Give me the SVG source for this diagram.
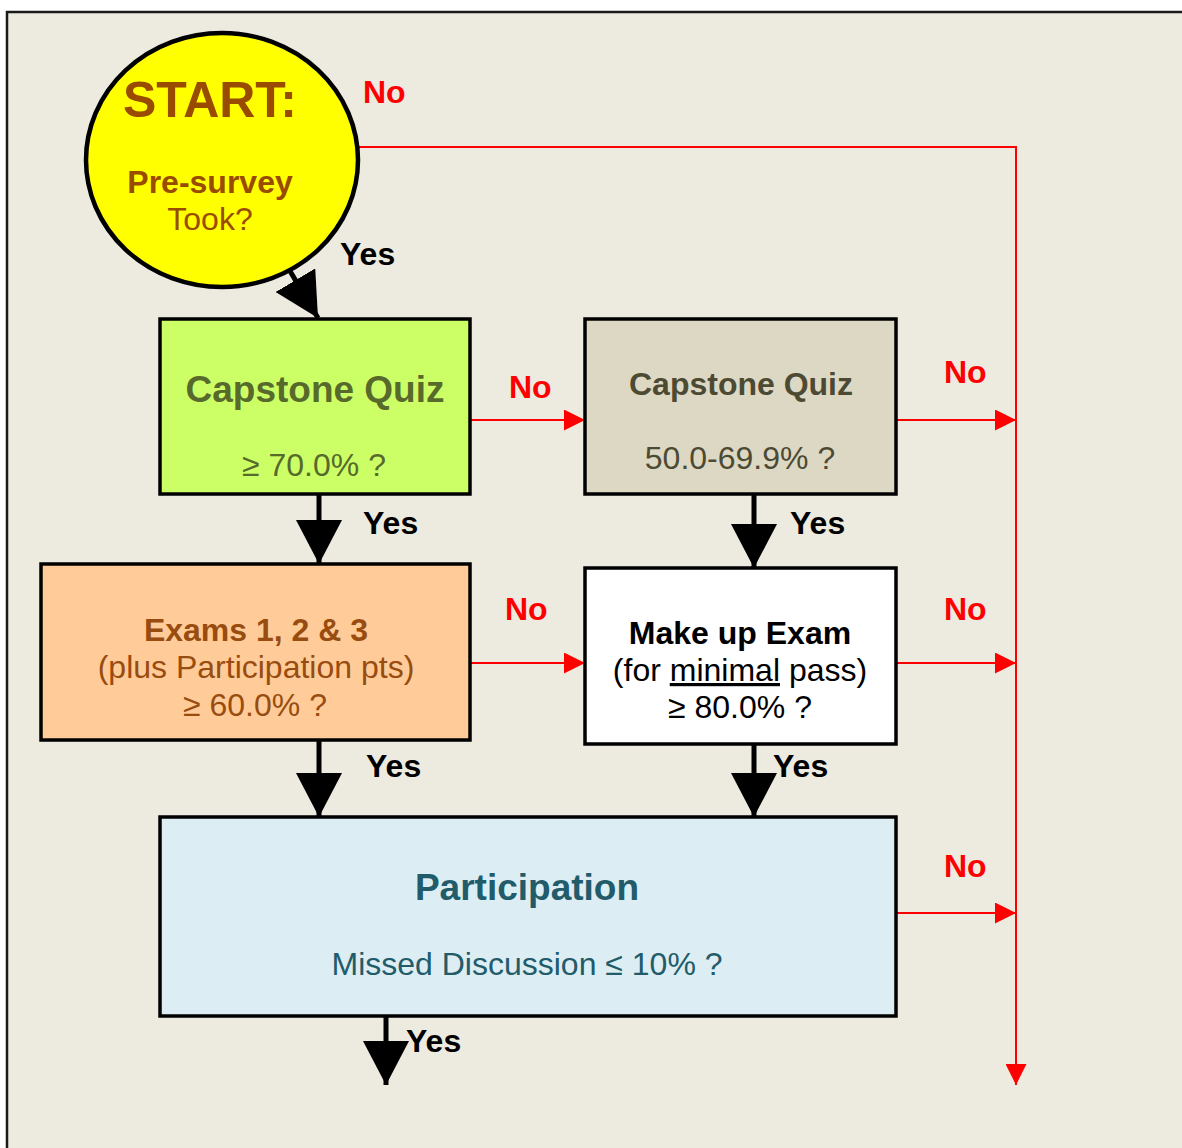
<svg xmlns="http://www.w3.org/2000/svg" width="1182" height="1148" viewBox="0 0 1182 1148">
<style>
text{font-family:"Liberation Sans",Arial,sans-serif;text-anchor:middle}
.b{font-weight:bold}
.box{stroke:#000;stroke-width:3.5}
.lbl{font-size:32px;font-weight:bold;text-anchor:start}
.no{fill:#FF0000}
.yes{fill:#000}
.red{stroke:#FF0000;stroke-width:2;fill:none}
.blk{stroke:#000;stroke-width:5;fill:none}
</style>
<defs>
<marker id="ah" markerUnits="userSpaceOnUse" viewBox="0 0 44 46" markerWidth="44" markerHeight="46" refX="44" refY="23" orient="auto">
<path d="M0,0 L44,23 L0,46 Z" fill="#000"/>
</marker>
<marker id="ar" markerUnits="userSpaceOnUse" viewBox="0 0 21 21" markerWidth="21" markerHeight="21" refX="21" refY="10.5" orient="auto">
<path d="M0,0 L21,10.5 L0,21 Z" fill="#FF0000"/>
</marker>
</defs>
<rect x="7" y="12" width="1190" height="1150" fill="#EDEAE0" stroke="#1a1a1a" stroke-width="2.5"/>

<g id="connectors">
<path class="red" d="M358,147 H1016 V1085" marker-end="url(#ar)"/>
<path class="red" d="M471,420 H585" marker-end="url(#ar)"/>
<path class="red" d="M896,420 H1016" marker-end="url(#ar)"/>
<path class="red" d="M470,663 H585" marker-end="url(#ar)"/>
<path class="red" d="M896,663 H1016" marker-end="url(#ar)"/>
<path class="red" d="M896,913 H1016" marker-end="url(#ar)"/>
<path class="blk" d="M287,266 L318,318" marker-end="url(#ah)"/>
<path class="blk" d="M319,494 V564" marker-end="url(#ah)"/>
<path class="blk" d="M754,494 V568" marker-end="url(#ah)"/>
<path class="blk" d="M319,740 V817" marker-end="url(#ah)"/>
<path class="blk" d="M754,744 V817" marker-end="url(#ah)"/>
<path class="blk" d="M386,1016 V1085" marker-end="url(#ah)"/>
<text class="lbl no" x="363" y="103">No</text>
<text class="lbl yes" x="340" y="265">Yes</text>
<text class="lbl no" x="509" y="398">No</text>
<text class="lbl no" x="944" y="383">No</text>
<text class="lbl yes" x="363" y="534">Yes</text>
<text class="lbl yes" x="790" y="534">Yes</text>
<text class="lbl no" x="505" y="620">No</text>
<text class="lbl no" x="944" y="620">No</text>
<text class="lbl yes" x="366" y="777">Yes</text>
<text class="lbl yes" x="773" y="777">Yes</text>
<text class="lbl no" x="944" y="877">No</text>
<text class="lbl yes" x="406" y="1052">Yes</text>
</g>

<g id="start">
<ellipse cx="222" cy="160" rx="136" ry="127" fill="#FFFF00" stroke="#000" stroke-width="4.5"/>
<text class="b" x="210" y="117" font-size="50" fill="#994C00">START:</text>
<text class="b" x="210" y="193" font-size="32" fill="#994C00">Pre-survey</text>
<text x="210" y="230" font-size="32" fill="#994C00">Took?</text>
</g>

<g id="quiz70">
<rect class="box" x="160" y="319" width="310" height="175" fill="#CCFF66"/>
<text class="b" x="315" y="402" font-size="37" fill="#576A2B">Capstone Quiz</text>
<text x="314" y="476" font-size="32" fill="#576A2B">≥ 70.0% ?</text>
</g>

<g id="quiz50">
<rect class="box" x="585" y="319" width="311" height="175" fill="#DDD8C4"/>
<text class="b" x="741" y="395" font-size="32" fill="#4D4A33">Capstone Quiz</text>
<text x="740" y="469" font-size="32" fill="#4D4A33">50.0-69.9% ?</text>
</g>

<g id="exams">
<rect class="box" x="41" y="564" width="429" height="176" fill="#FFCC99"/>
<text class="b" x="256" y="641" font-size="32" fill="#994C0F">Exams 1, 2 &amp; 3</text>
<text x="256" y="678" font-size="32" fill="#994C0F">(plus Participation pts)</text>
<text x="255" y="716" font-size="32" fill="#994C0F">≥ 60.0% ?</text>
</g>

<g id="makeup">
<rect class="box" x="585" y="568" width="311" height="176" fill="#FFFFFF"/>
<text class="b" x="740" y="644" font-size="32" fill="#000">Make up Exam</text>
<text x="740" y="681" font-size="32" fill="#000">(for <tspan text-decoration="underline">minimal</tspan> pass)</text>
<text x="740" y="718" font-size="32" fill="#000">≥ 80.0% ?</text>
</g>

<g id="participation">
<rect class="box" x="160" y="817" width="736" height="199" fill="#DCEEF3"/>
<text class="b" x="527" y="900" font-size="37" fill="#225B6A">Participation</text>
<text x="527" y="975" font-size="32" fill="#225B6A">Missed Discussion ≤ 10% ?</text>
</g>
</svg>
